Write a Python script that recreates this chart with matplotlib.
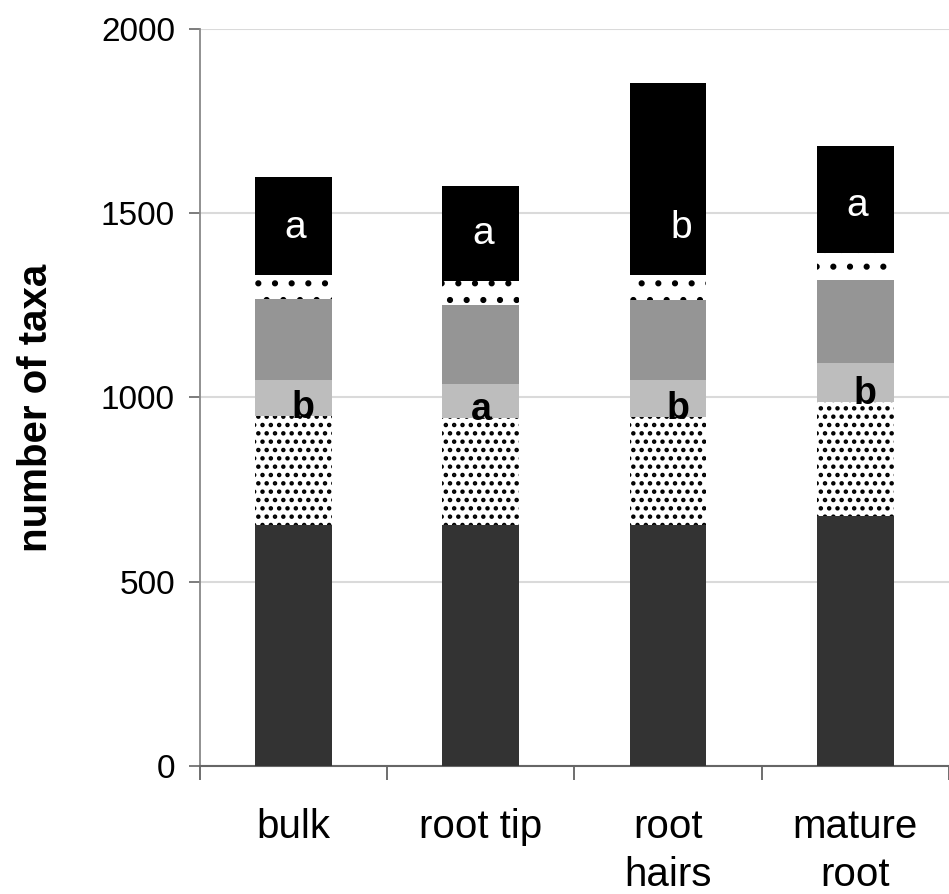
import matplotlib.pyplot as plt
import numpy as np

plt.rcParams['font.family'] = ['Liberation Sans', 'DejaVu Sans']
plt.rcParams['hatch.linewidth'] = 2.0

categories = ['bulk', 'root tip', 'root\nhairs', 'mature\nroot']

# stacked segments, bottom to top (number of taxa)
seg_dark = [654, 654, 654, 678]
seg_dense_dots = [296, 290, 293, 310]
seg_light = [97, 93, 100, 106]
seg_mid = [220, 214, 218, 225]
seg_sparse_dots = [65, 65, 67, 73]
seg_black = [266, 258, 521, 290]

letters_black = ['a', 'a', 'b', 'a']
letters_light = ['b', 'a', 'b', 'b']

yticks = [0, 500, 1000, 1500, 2000]

fig = plt.figure(figsize=(9.49, 8.94), dpi=100)
ax = fig.add_axes([0.2107, 0.1432, 0.7893, 0.8244])

x = np.arange(len(categories))
w = 0.41

segments = [
    (seg_dark, dict(color='#333333')),
    (seg_dense_dots, dict(facecolor='white', edgecolor='black', hatch='..', linewidth=0)),
    (seg_light, dict(color='#bdbdbd')),
    (seg_mid, dict(color='#959595')),
    (seg_sparse_dots, dict(facecolor='white', edgecolor='black', hatch='.', linewidth=0)),
    (seg_black, dict(color='black')),
]

bottom = np.zeros(len(categories))
tops = []
for vals, style in segments:
    ax.bar(x, vals, w, bottom=bottom, zorder=3, **style)
    bottom = bottom + np.array(vals)
    tops.append(bottom.copy())

# significance letters: white in the black segment, black on the light grey one
for i in range(len(categories)):
    dx = 0.07 if letters_black[i] == 'b' else 0.01
    ax.text(x[i] + dx, tops[4][i] + 100, letters_black[i], color='white',
            fontsize=28, ha='center', va='baseline', zorder=5)
    dx = 0.05 if letters_light[i] == 'b' else 0.0
    ax.text(x[i] + dx, tops[1][i] - 5, letters_light[i], color='black',
            fontsize=27, fontweight='bold', ha='center', va='baseline', zorder=5)

ax.set_xlim(-0.5, 3.5)
ax.set_ylim(0, 2000)
ax.set_yticks(yticks)
ax.set_yticklabels([str(v) for v in yticks], fontsize=24)
ax.yaxis.grid(True, color='#dadada', linewidth=1.5, zorder=0)
ax.set_axisbelow(True)

ax.set_xticks(x)
ax.set_xticklabels(categories, fontsize=29, linespacing=1.35, va='top')
ax.tick_params(axis='x', which='major', length=0, pad=30)
ax.set_xticks(np.arange(-0.5, 3.6, 1.0), minor=True)
ax.tick_params(axis='x', which='minor', length=10, width=1.2, color='#555555', direction='out')
ax.tick_params(axis='y', length=8, width=1.2, color='#666666', direction='out', pad=10)

for s in ['top', 'right']:
    ax.spines[s].set_visible(False)
ax.spines['left'].set_color('#888888')
ax.spines['bottom'].set_color('#666666')
ax.spines['left'].set_linewidth(1.3)
ax.spines['bottom'].set_linewidth(1.5)

ax.set_ylabel('number of taxa', fontsize=29, fontweight='bold')
ax.yaxis.set_label_coords(-0.194, 0.486)

fig.savefig('out.png', dpi=100)
